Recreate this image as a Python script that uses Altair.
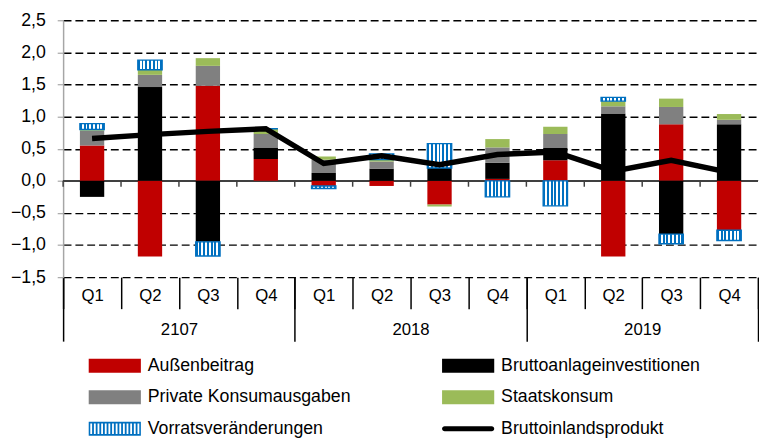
import altair as alt
import pandas as pd

# ---------------- data ----------------
years = ["2107"] * 4 + ["2018"] * 4 + ["2019"] * 4
quarters = ["Q1", "Q2", "Q3", "Q4"] * 3
year_names = ["2107", "2018", "2019"]

series_names = [
    "Außenbeitrag",
    "Bruttoanlageinvestitionen",
    "Private Konsumausgaben",
    "Staatskonsum",
    "Vorratsveränderungen",
    "Bruttoinlandsprodukt",
]
aussen = [0.55, -1.18, 1.48, 0.34, -0.08, -0.08, -0.37, 0.03, 0.32, -1.18, 0.88, -0.77]
brutto = [-0.25, 1.46, -0.95, 0.18, 0.12, 0.19, 0.20, 0.25, 0.19, 1.05, -0.83, 0.88]
privat = [0.23, 0.19, 0.31, 0.21, 0.21, 0.11, 0.00, 0.24, 0.22, 0.11, 0.27, 0.07]
staat = [0.02, 0.08, 0.12, 0.08, 0.05, 0.03, -0.03, 0.13, 0.11, 0.08, 0.13, 0.09]
vorrat = [0.09, 0.15, -0.22, 0.00, -0.04, 0.09, 0.38, -0.25, -0.39, 0.06, -0.15, -0.16]
bip = [0.66, 0.72, 0.77, 0.81, 0.27, 0.39, 0.25, 0.41, 0.45, 0.15, 0.32, 0.13]

colors = ["#C00000", "#000000", "#808080", "#9BBB59", "#0070C0", "#000000"]
y_ticks = [-1.5, -1.0, -0.5, 0.0, 0.5, 1.0, 1.5, 2.0, 2.5]
# legend is filled column by column: left column first, then right column
legend_order = [0, 2, 4, 1, 3, 5]

# ---------------- tables ----------------
keys = [f"{y}|{q}" for y, q in zip(years, quarters)]
bar_series = [aussen, brutto, privat, staat, vorrat]
rows = []
for si, vals in enumerate(bar_series):
    for k, v in zip(keys, vals):
        rows.append({"key": k, "series": series_names[si], "order": si, "value": v})
df_bars = pd.DataFrame(rows)
df_line = pd.DataFrame({"key": keys, "series": series_names[5], "order": 5, "value": bip})
df_all = pd.concat([df_bars, df_line], ignore_index=True)
df_keys = pd.DataFrame({"key": keys})
df_years = pd.DataFrame({"year": year_names})

FONT = "Liberation Sans"

# ---------------- shared encodings ----------------
x_scale = alt.Scale(domain=keys, paddingInner=0, paddingOuter=0)
x_axis = alt.Axis(
    orient="bottom", title=None, domain=False, grid=False,
    ticks=True, tickBand="extent", tickSize=32, tickColor="#000000", tickWidth=1.5,
    labelExpr="split(datum.value, '|')[1]", labelAngle=0, labelFont=FONT,
    labelFontSize=17, labelColor="#000000", labelBaseline="middle", labelPadding=-13,
)
y_scale = alt.Scale(domain=[-1.5, 2.5], nice=False, zero=False)
y_axis = alt.Axis(
    title=None, values=y_ticks, grid=True, gridColor="#000000", gridDash=[8, 4],
    gridWidth=1.4, domain=True, domainColor="#A6A6A6", domainWidth=1.5,
    ticks=True, tickColor="#A6A6A6", tickSize=6, tickWidth=1.2,
    labelExpr="replace(format(datum.value, '.1f'), '.', ',')",
    labelFont=FONT, labelFontSize=18, labelColor="#000000", labelPadding=12,
)


def X(**kw):
    return alt.X("key:N", scale=x_scale, axis=x_axis, **kw)


def Y(field):
    return alt.Y(field, scale=y_scale, axis=y_axis)


# ---------------- stacked bars ----------------
stacked = alt.Chart(df_bars).transform_stack(
    stack="value", groupby=["key"], as_=["v0", "v1"],
    sort=[alt.SortField("order", order="ascending")], offset="zero",
)

bar_w = alt.RelativeBandSize(0.42)
bar_layers = []
for si in range(4):
    bar_layers.append(
        stacked.transform_filter(f"datum.order == {si}")
        .mark_bar(width=bar_w, color=colors[si])
        .encode(x=X(), y=Y("v0:Q"), y2="v1:Q")
    )

# hatched (vertical stripes) bars for Vorratsveränderungen
n_seg = 13
stops = []
for k in range(n_seg):
    c = "#0070C0" if k % 2 == 0 else "#FFFFFF"
    stops.append(alt.GradientStop(color=c, offset=k / n_seg))
    stops.append(alt.GradientStop(color=c, offset=(k + 1) / n_seg))
hatch = alt.LinearGradient(gradient="linear", stops=stops, x1=0, x2=1, y1=0, y2=0)
hatched = (
    stacked.transform_filter("datum.order == 4")
    .mark_bar(width=bar_w, fill=hatch, stroke="#0070C0", strokeWidth=1.4)
    .encode(x=X(), y=Y("v0:Q"), y2="v1:Q")
)

# zero line and small ticks on it
zero_rule = alt.Chart(df_keys).mark_rule(color="#404040", strokeWidth=1.5).encode(
    y=alt.YDatum(0, scale=y_scale, axis=y_axis)
)
zero_ticks = alt.Chart(df_keys).mark_rule(color="#404040", strokeWidth=1.5, y2Offset=6).encode(
    x=X(bandPosition=0),
    y=alt.YDatum(0, scale=y_scale, axis=y_axis),
    y2=alt.Y2Datum(0),
)

# GDP line
line = alt.Chart(df_line).mark_line(color="#000000", strokeWidth=5.5).encode(
    x=X(), y=Y("value:Q")
)

# ---------------- legend (invisible points carrying the legend) ----------------
f = 7.0  # unit -> px factor (sqrt(size)/2)
L = -1.0
R = -1.0 + 53.0 / f


def rect(x0, y0, x1, y1):
    return f"M{x0:.3f},{y0:.3f}H{x1:.3f}V{y1:.3f}H{x0:.3f}Z"


box = rect(L, -1, R, 1)
t = 1.6 / f
hatch_parts = [rect(L, -1, R, -1 + t), rect(L, 1 - t, R, 1), rect(L, -1, L + t, 1), rect(R - t, -1, R, 1)]
n_white = 14
ix0, ix1 = L + t, R - t
w = (ix1 - ix0) / (2 * n_white - 1)
for j in range(n_white - 1):
    bx0 = ix0 + (2 * j + 1) * w
    hatch_parts.append(rect(bx0, -1, bx0 + w, 1))
hatch_path = "".join(hatch_parts)
r = 2.6 / f
line_path = (
    f"M{L + r:.3f},{-r:.3f}H{R - r:.3f}A{r:.3f},{r:.3f} 0 0 1 {R - r:.3f},{r:.3f}"
    f"H{L + r:.3f}A{r:.3f},{r:.3f} 0 0 1 {L + r:.3f},{-r:.3f}Z"
)
shapes = [box, box, box, box, hatch_path, line_path]

leg_domain = [series_names[i] for i in legend_order]
leg_colors = [colors[i] for i in legend_order]
leg_shapes = [shapes[i] for i in legend_order]

legend = alt.Legend(
    orient="none", legendX=24, legendY=342, columns=2, title=None,
    symbolSize=196, symbolStrokeWidth=0, symbolOpacity=1,
    labelFont=FONT, labelFontSize=18, labelColor="#000000", labelOffset=44,
    labelLimit=400, columnPadding=90, rowPadding=14,
)
legend_layer = alt.Chart(df_all).mark_point(filled=True, opacity=0).encode(
    x=X(),
    y=Y("value:Q"),
    color=alt.Color("series:N", scale=alt.Scale(domain=leg_domain, range=leg_colors), legend=legend),
    shape=alt.Shape("series:N", scale=alt.Scale(domain=leg_domain, range=leg_shapes), legend=legend),
)

inner = alt.layer(zero_rule, *bar_layers, hatched, zero_ticks, line, legend_layer)

# ---------------- year axis ----------------
year_layer = alt.Chart(df_years).mark_point(opacity=0).encode(
    x=alt.X(
        "year:N",
        scale=alt.Scale(domain=year_names, paddingInner=0, paddingOuter=0),
        axis=alt.Axis(
            orient="bottom", title=None, domain=False, grid=False, ticks=True,
            tickBand="extent", tickSize=65, tickColor="#000000", tickWidth=1.5,
            labelAngle=0, labelFont=FONT, labelFontSize=17, labelColor="#000000",
            labelBaseline="middle", labelPadding=-12,
        ),
    ),
    y=alt.YDatum(0, scale=y_scale, axis=y_axis),
)

chart = (
    alt.layer(inner, year_layer)
    .resolve_scale(x="independent")
    .properties(width=706, height=261, padding={"left": 2, "top": 0, "right": 0, "bottom": 0})
    .configure_view(stroke=None)
)

chart.save("out.html", embed_options={"renderer": "svg", "actions": False})
